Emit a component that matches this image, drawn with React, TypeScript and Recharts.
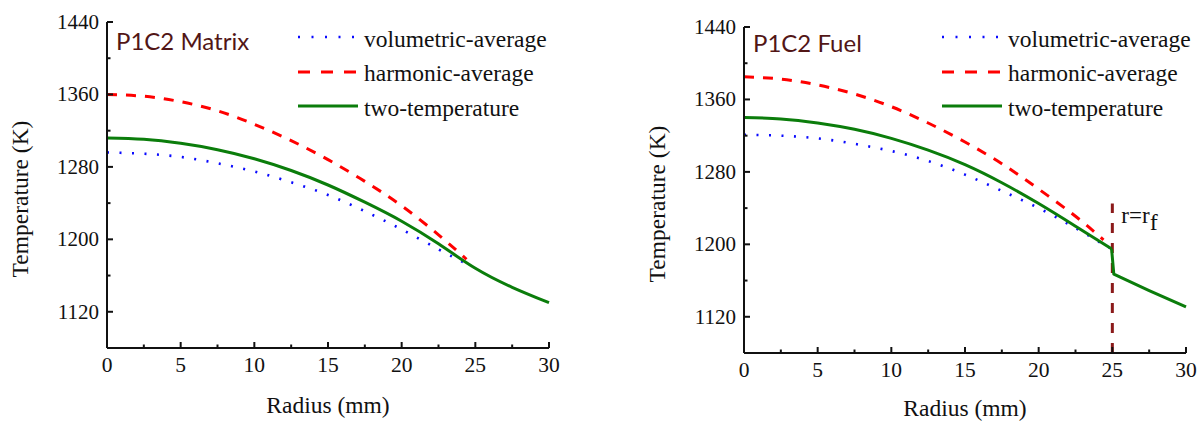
import { Legend, Line, LineChart, ReferenceLine, XAxis, YAxis } from "recharts"

// radius (mm) / temperature (K)
const matrixVolR = [0, 2.5, 5, 7.5, 10, 12.5, 15, 17.5, 20, 22.5, 24.5]
const matrixVolT = [1296, 1294.5, 1291, 1284, 1275, 1263, 1249, 1231, 1211, 1189, 1172]
const matrixHarmR = [0, 2.5, 5, 7.5, 10, 12.5, 15, 17.5, 20, 22.5, 24.4]
const matrixHarmT = [1360, 1358, 1352, 1342, 1327, 1309, 1288, 1264, 1237, 1205, 1178]
const matrixTwoR = [0, 2.5, 5, 7.5, 10, 12.5, 15, 17.5, 20, 22.5, 25, 27.5, 30]
const matrixTwoT = [1312, 1310.5, 1306, 1299, 1289, 1276, 1260, 1241, 1220, 1195, 1168, 1147, 1130]

const fuelVolR = [0, 2.5, 5, 7.5, 10, 12.5, 15, 17.5, 20, 22.5, 24.8]
const fuelVolT = [1321, 1320, 1317, 1311, 1303, 1292, 1277, 1259, 1240, 1218, 1196]
const fuelHarmR = [0, 2.5, 5, 7.5, 10, 12.5, 15, 17.5, 20, 22.5, 24.4]
const fuelHarmT = [1385, 1382.5, 1376, 1366, 1352, 1334, 1313, 1289, 1261, 1231, 1205]
// fuel region of the two-temperature curve, then the jump at r = rf and the matrix shell
const fuelTwoInR = [0, 2.5, 5, 7.5, 10, 12.5, 15, 17.5, 20, 22.5, 24.95]
const fuelTwoInT = [1340, 1338.5, 1334, 1327, 1317, 1304, 1288, 1268, 1245, 1220, 1195]
const fuelTwoOutR = [24.95, 25.1, 27.5, 30]
const fuelTwoOutT = [1195, 1167, 1149, 1131]

const X_TICKS = [0, 2.5, 5, 7.5, 10, 12.5, 15, 17.5, 20, 22.5, 25, 27.5, 30]
const Y_TICKS = [1120, 1160, 1200, 1240, 1280, 1320, 1360, 1400, 1440]
const Y_LABELED = [1120, 1200, 1280, 1360, 1440]
const INTERFACE_R = 25
const INTERFACE_TOP = 1245

const SERIF = "Liberation Serif, Times New Roman, Times, DejaVu Serif, serif"

const SERIES = [
  { key: "vol", name: "volumetric-average", color: "#0a0aff", width: 2.6, dash: "2 10.5", legendDash: "2 11.5" },
  { key: "harm", name: "harmonic-average", color: "#ff0000", width: 3, dash: "10 9", legendDash: "12 11" },
  { key: "two", name: "two-temperature", color: "#0b7d0b", width: 3, dash: undefined, legendDash: undefined },
]

type Pt = { r: number; t: number }

function zip(r: number[], t: number[]): Pt[] {
  return r.map((x, i) => ({ r: x, t: t[i] }))
}

function YTick(props: any) {
  const { x, y, payload } = props
  const major = Y_LABELED.includes(payload.value)
  return (
    <g>
      <line x1={x} x2={x + (major ? 6 : 3.5)} y1={y} y2={y} stroke="#111" strokeWidth={2} />
      {major ? (
        <text x={x - 8} y={y} textAnchor="end" dominantBaseline="central" style={{ fontFamily: SERIF }} fontSize={21} fill="#111">
          {payload.value}
        </text>
      ) : null}
    </g>
  )
}

function XTick(props: any) {
  const { x, y, payload } = props
  const major = payload.value % 5 === 0
  return (
    <g>
      <line x1={x} x2={x} y1={y} y2={y - (major ? 6 : 3.5)} stroke="#111" strokeWidth={2} />
      {major ? (
        <text x={x} y={y + 17} textAnchor="middle" dominantBaseline="central" style={{ fontFamily: SERIF }} fontSize={21.5} fill="#111">
          {payload.value}
        </text>
      ) : null}
    </g>
  )
}

function LegendBox() {
  return (
    <div style={{ fontFamily: SERIF, fontSize: 23.5, color: "#111" }}>
      {SERIES.map((s) => (
        <div key={s.key} style={{ display: "flex", alignItems: "center", height: 34.5 }}>
          <svg width={60} height={8} style={{ display: "block", marginTop: -4 }}>
            <line x1={0} x2={60} y1={4} y2={4} stroke={s.color} strokeWidth={s.width} strokeDasharray={s.legendDash} />
          </svg>
          <span style={{ marginLeft: 6, whiteSpace: "nowrap", lineHeight: 1 }}>{s.name}</span>
        </div>
      ))}
    </div>
  )
}

interface PanelProps {
  title: string
  vol: Pt[]
  harm: Pt[]
  two: Pt[][]
  width: number
  legendLeft: number
  legendTop: number
  titleTop: number
  xLabelDy: number
  showInterface?: boolean
}

function Panel({ title, vol, harm, two, width, legendLeft, legendTop, titleTop, xLabelDy, showInterface }: PanelProps) {
  const [volS, harmS, twoS] = SERIES
  return (
    <div style={{ position: "relative", width, height: 422 }}>
      <LineChart width={width} height={422} margin={{ top: 22, right: width - 549, bottom: 0, left: 0 }}>
        <XAxis
          type="number"
          dataKey="r"
          domain={[0, 30]}
          ticks={X_TICKS}
          interval={0}
          height={74}
          tickSize={0}
          tickMargin={0}
          tickLine={false}
          axisLine={{ stroke: "#111", strokeWidth: 2 }}
          tick={<XTick />}
          label={{
            content: (p: any) => (
              <text
                x={p.viewBox.x + p.viewBox.width / 2}
                y={p.viewBox.y + xLabelDy}
                textAnchor="middle"
                dominantBaseline="central"
                style={{ fontFamily: SERIF }}
                fontSize={23.5}
                fill="#111"
              >
                Radius (mm)
              </text>
            ),
          }}
        />
        <YAxis
          type="number"
          dataKey="t"
          domain={[1080, 1440]}
          ticks={Y_TICKS}
          interval={0}
          width={107}
          tickSize={0}
          tickMargin={0}
          tickLine={false}
          axisLine={{ stroke: "#111", strokeWidth: 2 }}
          tick={<YTick />}
          label={{
            content: (p: any) => {
              const cx = p.viewBox.x + 20
              const cy = p.viewBox.y + p.viewBox.height / 2 + 14
              return (
                <text
                  x={cx}
                  y={cy}
                  transform={`rotate(-90 ${cx} ${cy})`}
                  textAnchor="middle"
                  dominantBaseline="central"
                  style={{ fontFamily: SERIF }}
                  fontSize={23.5}
                  fill="#111"
                >
                  Temperature (K)
                </text>
              )
            },
          }}
        />
        {showInterface ? (
          <ReferenceLine
            segment={[
              { x: INTERFACE_R, y: 1080 },
              { x: INTERFACE_R, y: INTERFACE_TOP },
            ]}
            stroke="#8b1a1a"
            strokeWidth={3}
            strokeDasharray="10 10"
            label={{
              content: (p: any) => (
                <text x={p.viewBox.x + 9} y={p.viewBox.y + 19} style={{ fontFamily: SERIF }} fontSize={23} fill="#111">
                  r=r
                  <tspan dy={7} fontSize={24}>
                    f
                  </tspan>
                </text>
              ),
            }}
          />
        ) : null}
        <Line
          data={vol}
          dataKey="t"
          name={volS.name}
          type="natural"
          stroke={volS.color}
          strokeWidth={volS.width}
          strokeDasharray={volS.dash}
          dot={false}
          activeDot={false}
          isAnimationActive={false}
        />
        {two.map((seg, i) => (
          <Line
            key={i}
            data={seg}
            dataKey="t"
            name={twoS.name}
            type={i === 0 ? "natural" : "linear"}
            stroke={twoS.color}
            strokeWidth={twoS.width}
            strokeLinejoin="round"
            dot={false}
            activeDot={false}
            isAnimationActive={false}
          />
        ))}
        <Line
          data={harm}
          dataKey="t"
          name={harmS.name}
          type="natural"
          stroke={harmS.color}
          strokeWidth={harmS.width}
          strokeDasharray={harmS.dash}
          dot={false}
          activeDot={false}
          isAnimationActive={false}
        />
        <Legend
          layout="vertical"
          align="center"
          verticalAlign="middle"
          content={() => <LegendBox />}
          wrapperStyle={{ left: legendLeft, top: legendTop, width: "auto", height: "auto" }}
        />
      </LineChart>
      <div
        style={{
          position: "absolute",
          left: 116,
          top: titleTop,
          fontFamily: "Lato, 'Noto Sans', sans-serif",
          fontSize: 24,
          lineHeight: "24px",
          color: "#521616",
          whiteSpace: "nowrap",
        }}
      >
        {title}
      </div>
    </div>
  )
}

export default function App() {
  return (
    <div style={{ position: "absolute", left: 0, top: 0, width: 1204, height: 422, background: "#fff" }}>
      <div style={{ position: "absolute", left: 0, top: 0 }}>
        <Panel
          title="P1C2 Matrix"
          vol={zip(matrixVolR, matrixVolT)}
          harm={zip(matrixHarmR, matrixHarmT)}
          two={[zip(matrixTwoR, matrixTwoT)]}
          width={600}
          legendLeft={298}
          legendTop={22}
          titleTop={29}
          xLabelDy={57}
        />
      </div>
      <div style={{ position: "absolute", left: 637, top: 5 }}>
        <Panel
          title="P1C2 Fuel"
          vol={zip(fuelVolR, fuelVolT)}
          harm={zip(fuelHarmR, fuelHarmT)}
          two={[zip(fuelTwoInR, fuelTwoInT), zip(fuelTwoOutR, fuelTwoOutT)]}
          width={567}
          legendLeft={305}
          legendTop={17}
          titleTop={26}
          xLabelDy={55}
          showInterface
        />
      </div>
    </div>
  )
}
